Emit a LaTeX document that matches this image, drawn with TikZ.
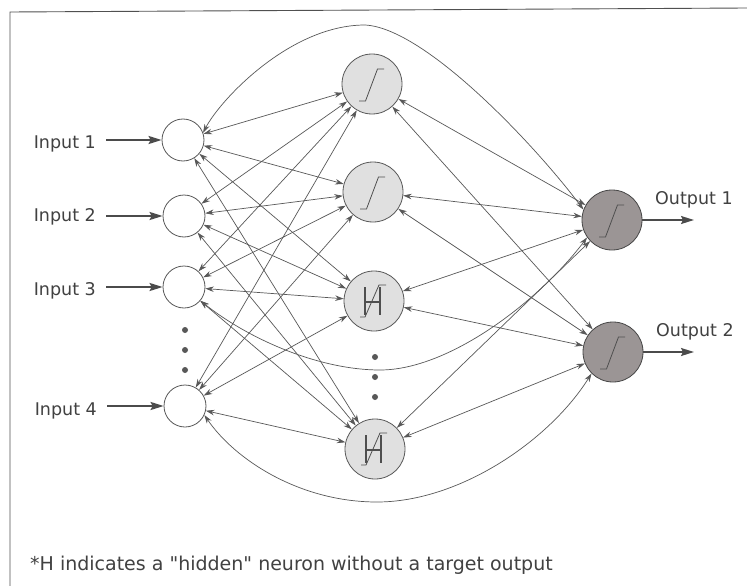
\documentclass[tikz,border=0pt]{standalone}
\usepackage{fontspec}
\setmainfont{DejaVu Sans}
\usetikzlibrary{arrows.meta}
\definecolor{linec}{RGB}{88,88,88}
\definecolor{hidfill}{RGB}{224,224,224}
\definecolor{outfill}{RGB}{155,149,149}
\definecolor{txt}{RGB}{65,65,65}
\definecolor{framec}{RGB}{80,80,80}
\begin{document}
\begin{tikzpicture}[x=1pt,y=-1pt,
  inn/.style={circle,draw=linec,fill=white,minimum size=42pt,inner sep=0pt,line width=0.8pt},
  hid/.style={circle,draw=linec,fill=hidfill,minimum size=60pt,inner sep=0pt,line width=0.8pt},
  outn/.style={circle,draw=linec!80!black,fill=outfill,minimum size=60pt,inner sep=0pt,line width=0.8pt},
  dotn/.style={circle,fill=linec,minimum size=6pt,inner sep=0pt},
  lbl/.style={text=txt,inner sep=0pt,font=\fontsize{17.5}{20}\selectfont},
  notelbl/.style={text=txt,inner sep=0pt,font=\fontsize{19}{22}\selectfont},
  con/.style={draw=linec,line width=0.7pt,{Stealth[length=8.5pt,width=5.5pt]}-{Stealth[length=8.5pt,width=5.5pt]}},
  feed/.style={draw=linec!85!black,line width=1.8pt,-{Stealth[length=13pt,width=8pt,inset=2pt]}},
  glyph/.style={draw=linec!90!black,line width=0.8pt},
  framel/.style={draw=framec,line width=0.9pt}]
\useasboundingbox (0,0) rectangle (747,586);
\fill[white] (0,0) rectangle (747,586);
% frame
\draw[framel] (10,586) -- (10,12) -- (747,8);

% input nodes
\node[inn] (I1) at (183,140) {};
\node[inn] (I2) at (184,216) {};
\node[inn] (I3) at (184,287) {};
\node[inn] (I4) at (185,406) {};
\node[dotn] (di1) at (185,330) {};
\node[dotn] (di2) at (185,350) {};
\node[dotn] (di3) at (185,370) {};

% hidden nodes
\node[hid] (h1) at (372,84) {};
\node[hid] (h2) at (373,192) {};
\node[hid] (h3) at (374,301) {};
\node[hid] (h4) at (375,449) {};
\node[dotn] (dh1) at (375,357) {};
\node[dotn] (dh2) at (375,377) {};
\node[dotn] (dh3) at (375,397) {};

% output nodes
\node[outn] (o1) at (612,220) {};
\node[outn] (o2) at (613,352) {};

% glyphs
\foreach \n in {h1,h2,o1,o2}{
  \draw[glyph] ([shift={(-13,17)}]\n.center) -- ++(6.5,0) -- ++(12,-32) -- ++(6.5,0);
}
\foreach \n in {h3,h4}{
  \draw[glyph,line width=1.1pt] ([shift={(-9,-14)}]\n.center) -- ++(0,28);
  \draw[glyph,line width=1.1pt] ([shift={(6,-14)}]\n.center) -- ++(0,28);
  \draw[glyph,line width=1.1pt] ([shift={(-9,1)}]\n.center) -- ++(15,0);
  \draw[glyph] ([shift={(-14,16)}]\n.center) -- ++(5,0) -- ++(14,-32) -- ++(7,0);
}

% labels
\node[lbl,anchor=base east] (L1) at (96,148) {Input 1};
\node[lbl,anchor=base east] (L2) at (96,221) {Input 2};
\node[lbl,anchor=base east] (L3) at (96,295) {Input 3};
\node[lbl,anchor=base east] (L4) at (97,415) {Input 4};
\node[lbl,anchor=base west] (R1) at (655,204) {Output 1};
\node[lbl,anchor=base west] (R2) at (656,336) {Output 2};
\node[notelbl,anchor=base west] (note) at (30,570) {*H indicates a \textquotedbl hidden\textquotedbl{} neuron without a target output};

% input / output arrows
\coordinate (a1) at (106,140);
\coordinate (a2) at (106,216);
\coordinate (a3) at (106,287);
\coordinate (a4) at (107,406);
\coordinate (b1) at (694,220);
\coordinate (b2) at (694,352);
\draw[feed] (a1) -- (I1);
\draw[feed] (a2) -- (I2);
\draw[feed] (a3) -- (I3);
\draw[feed] (a4) -- (I4);
\draw[feed] (o1) -- (b1);
\draw[feed] (o2) -- (b2);

% input <-> hidden
\foreach \i in {I1,I2,I3,I4}{
  \foreach \h in {h1,h2,h3,h4}{
    \draw[con] (\i) -- (\h);
  }
}
% hidden <-> output
\foreach \h in {h1,h2,h3,h4}{
  \foreach \o in {o1,o2}{
    \draw[con] (\h) -- (\o);
  }
}
% recurrent curves
\draw[con] (I1.20) .. controls (220,100) and (290,25) .. (365,25)
  .. controls (425,28) and (535,145) .. (o1.160);
\draw[con] (I3.-40) .. controls (250,340) and (320,370) .. (380,370)
  .. controls (450,370) and (540,300) .. (o1.215);
\draw[con] (I4.-25) .. controls (235,460) and (300,502) .. (377,502)
  .. controls (460,502) and (550,440) .. (o2.225);
\end{tikzpicture}
\end{document}
